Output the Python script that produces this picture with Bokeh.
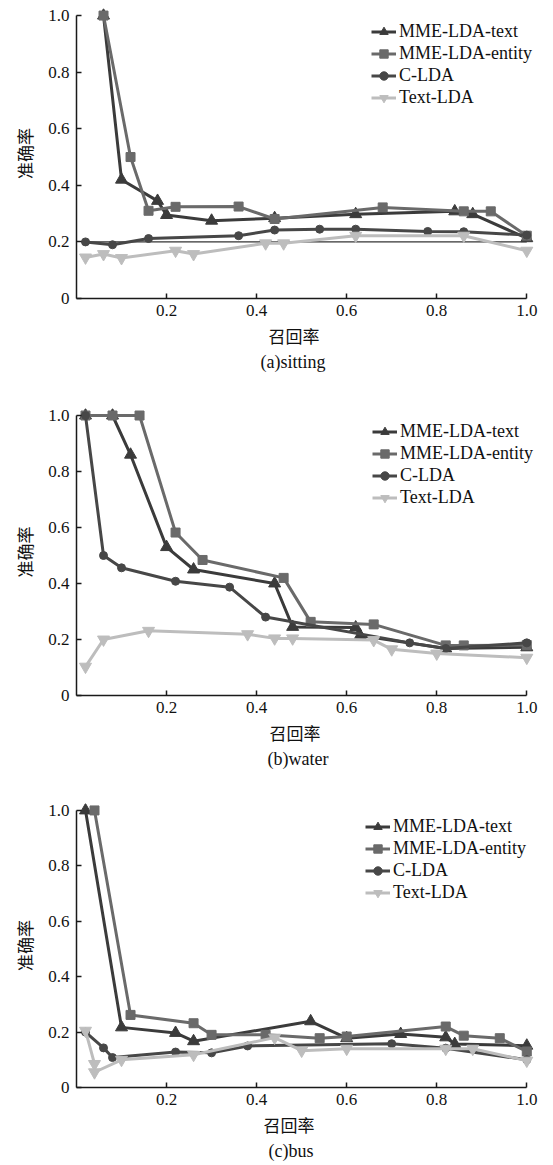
from bokeh.plotting import figure
from bokeh.layouts import column
from bokeh.models import FixedTicker, Legend, LegendItem, Range1d, Title
from bokeh.embed import file_html
from bokeh.resources import INLINE

# ---------------- data ----------------
series_names = ["MME-LDA-text", "MME-LDA-entity", "C-LDA", "Text-LDA"]
x_ticks = [0.2, 0.4, 0.6, 0.8, 1.0]
x_tick_labels = ["0.2", "0.4", "0.6", "0.8", "1.0"]
y_ticks = [0, 0.2, 0.4, 0.6, 0.8, 1.0]
y_tick_labels = ["0", "0.2", "0.4", "0.6", "0.8", "1.0"]
x_title = "召回率"
y_title = "准确率"
captions = ["(a)sitting", "(b)water", "(c)bus"]

# (a) sitting
sit_text_x = [0.06, 0.10, 0.18, 0.20, 0.30, 0.44, 0.62, 0.84, 0.88, 1.0]
sit_text_y = [1.0, 0.42, 0.345, 0.295, 0.275, 0.284, 0.298, 0.308, 0.298, 0.213]
sit_ent_x = [0.06, 0.12, 0.16, 0.22, 0.36, 0.44, 0.68, 0.86, 0.92, 1.0]
sit_ent_y = [1.0, 0.50, 0.31, 0.324, 0.325, 0.281, 0.322, 0.308, 0.308, 0.222]
sit_c_x = [0.02, 0.08, 0.16, 0.36, 0.44, 0.54, 0.62, 0.78, 0.86, 1.0]
sit_c_y = [0.20, 0.19, 0.212, 0.222, 0.242, 0.245, 0.245, 0.237, 0.236, 0.224]
sit_t_x = [0.02, 0.06, 0.10, 0.22, 0.26, 0.42, 0.46, 0.62, 0.86, 1.0]
sit_t_y = [0.145, 0.157, 0.143, 0.169, 0.157, 0.195, 0.195, 0.222, 0.222, 0.169]
sit_ref_x = [0.02, 1.0]
sit_ref_y = [0.2, 0.2]

# (b) water
wat_text_x = [0.02, 0.08, 0.12, 0.20, 0.26, 0.44, 0.48, 0.62, 0.63, 0.82, 1.0]
wat_text_y = [1.0, 1.0, 0.86, 0.53, 0.45, 0.40, 0.245, 0.243, 0.214, 0.168, 0.172]
wat_ent_x = [0.02, 0.08, 0.14, 0.22, 0.28, 0.46, 0.52, 0.66, 0.82, 0.86, 1.0]
wat_ent_y = [1.0, 1.0, 1.0, 0.582, 0.484, 0.42, 0.263, 0.254, 0.179, 0.179, 0.18]
wat_c_x = [0.02, 0.06, 0.10, 0.22, 0.34, 0.42, 0.74, 0.82, 1.0]
wat_c_y = [1.0, 0.50, 0.456, 0.408, 0.387, 0.28, 0.188, 0.168, 0.188]
wat_t_x = [0.02, 0.06, 0.16, 0.38, 0.44, 0.48, 0.66, 0.70, 0.80, 1.0]
wat_t_y = [0.103, 0.20, 0.231, 0.219, 0.204, 0.204, 0.198, 0.165, 0.15, 0.135]

# (c) bus
bus_text_x = [0.02, 0.10, 0.22, 0.26, 0.52, 0.60, 0.72, 0.82, 0.84, 1.0]
bus_text_y = [1.0, 0.217, 0.197, 0.167, 0.239, 0.178, 0.193, 0.181, 0.157, 0.151]
bus_ent_x = [0.04, 0.12, 0.26, 0.30, 0.42, 0.54, 0.60, 0.82, 0.86, 0.94, 1.0]
bus_ent_y = [1.0, 0.262, 0.232, 0.19, 0.19, 0.178, 0.184, 0.22, 0.187, 0.178, 0.13]
bus_c_x = [0.02, 0.06, 0.08, 0.22, 0.30, 0.38, 0.70, 0.82, 1.0]
bus_c_y = [0.20, 0.143, 0.108, 0.128, 0.125, 0.150, 0.158, 0.142, 0.10]
bus_t_x = [0.02, 0.04, 0.04, 0.10, 0.26, 0.44, 0.50, 0.60, 0.82, 0.88, 1.0]
bus_t_y = [0.205, 0.085, 0.055, 0.10, 0.118, 0.18, 0.133, 0.14, 0.14, 0.14, 0.097]

# ---------------- styles ----------------
colors = ["#3b3b3b", "#6a6a6a", "#474747", "#bdbdbd"]
markers = ["triangle", "square", "circle", "inverted_triangle"]
msizes = [12, 9, 8, 12]
SERIF = "Liberation Serif"
CJK = "Noto Sans CJK SC"
INK = "#111111"


def make_panel(caption, series, ref, left, top, fw, fh, bottom, legend_dx,
               xlabel_off, caption_off):
    width = 553
    height = top + fh + bottom
    p = figure(width=width, height=height, output_backend="svg", toolbar_location=None,
               x_range=Range1d(0, 1.026), y_range=Range1d(0, 1.025),
               min_border_left=left, min_border_right=width - left - fw,
               min_border_top=top, min_border_bottom=bottom)
    p.outline_line_color = None
    p.grid.visible = False
    p.background_fill_color = "#ffffff"
    p.border_fill_color = "#ffffff"

    p.xaxis.ticker = FixedTicker(ticks=x_ticks)
    p.xaxis.major_label_overrides = dict(zip(x_ticks, x_tick_labels))
    p.yaxis.ticker = FixedTicker(ticks=y_ticks)
    p.yaxis.major_label_overrides = dict(zip(y_ticks, y_tick_labels))
    p.xaxis.bounds = (0, 1)
    p.yaxis.bounds = (0, 1)
    p.yaxis.axis_label = y_title
    for ax in (p.xaxis, p.yaxis):
        ax.axis_line_color = "#1a1a1a"
        ax.axis_line_width = 1.5
        ax.major_tick_line_color = "#1a1a1a"
        ax.major_tick_line_width = 1.5
        ax.major_tick_in = 5
        ax.major_tick_out = 0
        ax.minor_tick_line_color = None
        ax.major_label_text_font = SERIF
        ax.major_label_text_font_size = "17px"
        ax.major_label_text_color = INK
        ax.axis_label_text_font = CJK
        ax.axis_label_text_font_size = "17px"
        ax.axis_label_text_font_style = "normal"
        ax.axis_label_text_color = INK
    p.xaxis.major_label_standoff = 6
    p.yaxis.major_label_standoff = 7
    p.yaxis.axis_label_standoff = 8

    # x-axis title and caption stacked below the axis
    p.add_layout(Title(text=x_title, align="left", offset=xlabel_off, standoff=4,
                       text_font=CJK, text_font_size="17px", text_font_style="normal",
                       text_color=INK), "below")
    p.add_layout(Title(text=caption, align="left", offset=caption_off, standoff=0,
                       text_font=SERIF, text_font_size="18px", text_font_style="normal",
                       text_color=INK), "below")

    if ref is not None:
        p.line(ref[0], ref[1], line_color="#000000", line_width=1)

    items = []
    for i, (xs, ys) in enumerate(series):
        r1 = p.line(xs, ys, line_color=colors[i], line_width=3)
        r2 = p.scatter(xs, ys, marker=markers[i], size=msizes[i],
                       fill_color=colors[i], line_color=colors[i])
        items.append(LegendItem(label=series_names[i], renderers=[r1, r2]))

    leg_h = 4 * 21 + 3 * 1
    legend = Legend(items=items, location=(legend_dx, fh - 13 - leg_h),
                    padding=0, margin=0, spacing=1,
                    glyph_width=25, glyph_height=21, label_height=21,
                    label_standoff=3, border_line_color=None,
                    background_fill_alpha=0,
                    label_text_font=SERIF, label_text_font_size="18px",
                    label_text_color=INK)
    p.add_layout(legend)
    return p


p1 = make_panel(captions[0],
                [(sit_text_x, sit_text_y), (sit_ent_x, sit_ent_y), (sit_c_x, sit_c_y), (sit_t_x, sit_t_y)],
                (sit_ref_x, sit_ref_y), 72, 8, 470, 290, 78, 295, 192, 184)
p2 = make_panel(captions[1],
                [(wat_text_x, wat_text_y), (wat_ent_x, wat_ent_y), (wat_c_x, wat_c_y), (wat_t_x, wat_t_y)],
                None, 72, 32, 472, 287, 78, 296, 193, 191)
p3 = make_panel(captions[2],
                [(bus_text_x, bus_text_y), (bus_ent_x, bus_ent_y), (bus_c_x, bus_c_y), (bus_t_x, bus_t_y)],
                None, 76, 30, 462, 284, 78, 289, 187, 192)

layout = column(p1, p2, p3, spacing=0)
open("out.html", "w").write(file_html(layout, INLINE))
